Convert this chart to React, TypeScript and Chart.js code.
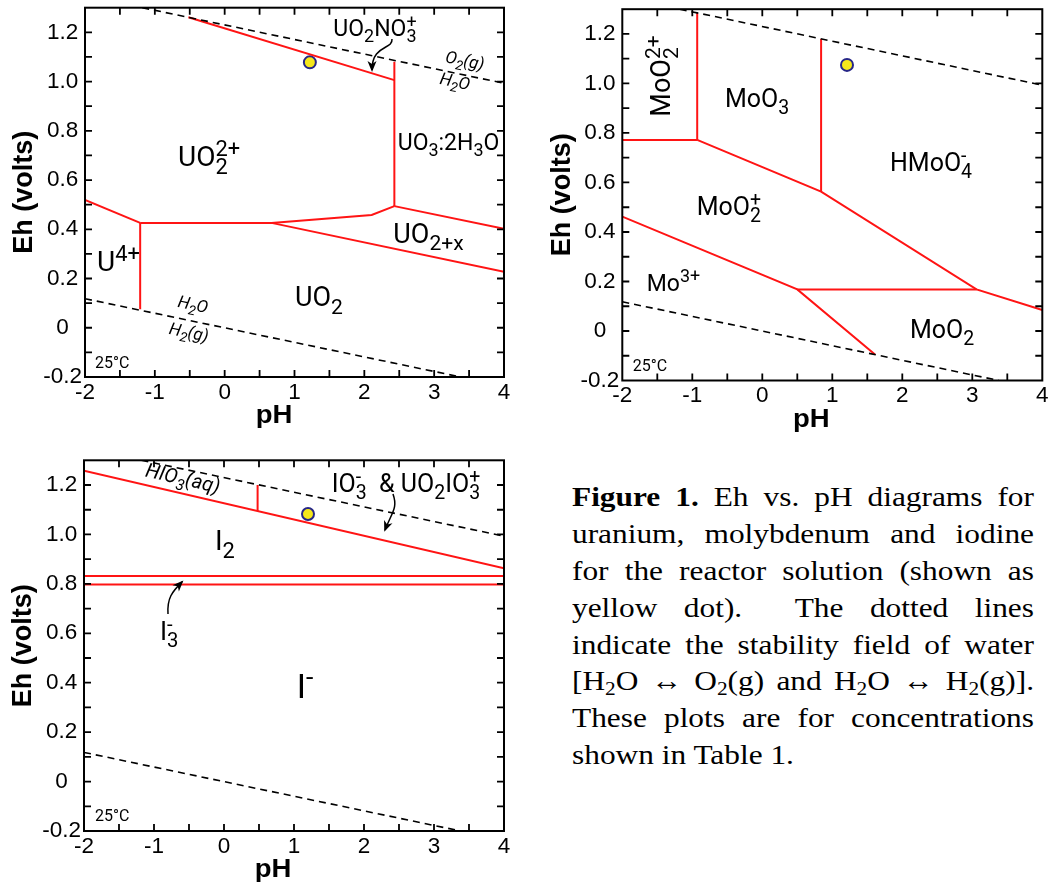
import React, { useEffect, useRef } from 'react';
import { Chart, registerables } from 'chart.js';
Chart.register(...registerables);

// ---------- axes ----------
const X_TICKS = [-2, -1, 0, 1, 2, 3, 4];
const X_TICK_LABELS = ['-2', '-1', '0', '1', '2', '3', '4'];
const Y_TICKS = [-0.2, 0, 0.2, 0.4, 0.6, 0.8, 1.0, 1.2];
const Y_TICK_LABELS = ['-0.2', '0', '0.2', '0.4', '0.6', '0.8', '1.0', '1.2'];
const X_MINOR = [-1.5, -1, -0.5, 0, 0.5, 1, 1.5, 2, 2.5, 3, 3.5];
const Y_MINOR = [-0.1, 0, 0.1, 0.2, 0.3, 0.4, 0.5, 0.6, 0.7, 0.8, 0.9, 1.0, 1.1, 1.2];

// ---------- water stability lines (pH, Eh) ----------
const WATER_O2 = [[-1.18, 1.3], [4, 0.993]];
const WATER_H2 = [[-2, 0.118], [3.38, -0.2]];

// ---------- uranium boundaries ----------
const U_UO2_TOP = [[-0.52, 1.261], [2.43, 1.006]];
const U_UO3_LEFT = [[2.43, 1.08], [2.43, 0.494]];
const U_U4_TOP = [[-2, 0.519], [-1.21, 0.426]];
const U_U4_RIGHT = [[-1.21, 0.426], [-1.21, 0.075]];
const U_UO2_UPPER = [[-1.21, 0.426], [0.67, 0.426], [2.105, 0.458], [2.43, 0.494]];
const U_UO2X_TOP = [[2.43, 0.494], [4, 0.402]];
const U_UO2X_BOTTOM = [[0.67, 0.426], [4, 0.227]];

// ---------- molybdenum boundaries ----------
const MO_V1 = [[-0.93, 1.285], [-0.93, 0.772]];
const MO_H1 = [[-2, 0.772], [-0.93, 0.772]];
const MO_D1 = [[-0.93, 0.772], [0.84, 0.563], [3.06, 0.168], [4, 0.085]];
const MO_V2 = [[0.84, 1.18], [0.84, 0.563]];
const MO_H2 = [[0.5, 0.168], [3.06, 0.168]];
const MO_D2 = [[-2, 0.462], [0.5, 0.168], [1.61, -0.095]];

// ---------- iodine boundaries ----------
const I_IO3 = [[-2, 1.258], [4, 0.863]];
const I_HIO3 = [[0.48, 1.095], [0.48, 1.2]];
const I_I3_TOP = [[-2, 0.832], [4, 0.832]];
const I_I3_BOTTOM = [[-2, 0.797], [4, 0.797]];

// ---------- reactor solution (yellow dot) ----------
const SAMPLE_U = [[1.22, 1.078]];
const SAMPLE_MO = [[1.21, 1.075]];
const SAMPLE_I = [[1.2, 1.083]];

// ---------- annotations (data coordinates) ----------
const U_LABELS = [
  { x: -0.668, y: 0.657, text: 'UO_{2}^{2+}', size: 28 },
  { x: -1.828, y: 0.232, text: 'U^{4+}', size: 28 },
  { x: 1.007, y: 0.088, text: 'UO_{2}', size: 27 },
  { x: 2.415, y: 0.345, text: 'UO_{2+x}', size: 27 },
  { x: 2.478, y: 0.722, text: 'UO_{3}:2H_{3}O', size: 23 },
  { x: 1.556, y: 1.185, text: 'UO_{2}NO_{3}^{+}', size: 23 },
  { x: 3.442, y: 1.087, text: 'O_{2}(g)', size: 17, italic: true, rot: 12, center: true },
  { x: 3.3, y: 1.002, text: 'H_{2}O', size: 17, italic: true, rot: 12, center: true },
  { x: -0.453, y: 0.096, text: 'H_{2}O', size: 17, italic: true, rot: 12, center: true },
  { x: -0.511, y: -0.017, text: 'H_{2}(g)', size: 17, italic: true, rot: 12, center: true },
  { x: -1.857, y: -0.163, text: '25°C', size: 16 },
];
const MO_LABELS = [
  { x: -1.319, y: 0.866, text: 'MoO_{2}^{2+}', size: 27, rot: -90 },
  { x: -0.534, y: 0.906, text: 'MoO_{3}', size: 25 },
  { x: 1.824, y: 0.648, text: 'HMoO_{4}^{-}', size: 25 },
  { x: -0.937, y: 0.469, text: 'MoO_{2}^{+}', size: 25 },
  { x: -1.651, y: 0.163, text: 'Mo^{3+}', size: 23 },
  { x: 2.11, y: -0.03, text: 'MoO_{2}', size: 25 },
  { x: -1.851, y: -0.16, text: '25°C', size: 16 },
];
const I_LABELS = [
  { x: -0.586, y: 1.229, text: 'HIO_{3}(aq)', size: 20, italic: true, rot: 13, center: true },
  { x: 1.538, y: 1.173, text: 'IO_{3}^{-}  & UO_{2}IO_{3}^{+}', size: 25 },
  { x: -0.129, y: 0.937, text: 'I_{2}', size: 28 },
  { x: -0.914, y: 0.573, text: 'I_{3}^{-}', size: 26 },
  { x: 1.039, y: 0.337, text: 'I^{-}', size: 34 },
  { x: -1.843, y: -0.159, text: '25°C', size: 16 },
];
const U_ARROWS = [[[2.396, 1.173], [2.411, 1.128], [2.11, 1.152], [2.11, 1.047]]];
const MO_ARROWS: number[][][] = [];
const I_ARROWS = [
  [[2.414, 1.164], [2.486, 1.107], [2.4, 1.091], [2.3, 1.018]],
  [[-0.8, 0.678], [-0.814, 0.743], [-0.743, 0.767], [-0.6, 0.808]],
];

const RED = '#ff1414';
const AXIS_FONT = "'Liberation Sans', Arial, Helvetica, sans-serif";
const LABEL_FONT = "Roboto, 'Liberation Sans', Arial, sans-serif";
const AXIS_W = 90;
const PAD_T = 25;
const PAD_R = 15;
const AXIS_H = 55;

const PANELS = [
  {
    plot: { L: 85, T: 7.7, R: 504, B: 377 },
    lines: [U_UO2_TOP, U_UO3_LEFT, U_U4_TOP, U_U4_RIGHT, U_UO2_UPPER, U_UO2X_TOP, U_UO2X_BOTTOM],
    sample: SAMPLE_U, labels: U_LABELS, arrows: U_ARROWS,
  },
  {
    plot: { L: 622.3, T: 9.2, R: 1042.3, B: 380.5 },
    lines: [MO_V1, MO_H1, MO_D1, MO_V2, MO_H2, MO_D2],
    sample: SAMPLE_MO, labels: MO_LABELS, arrows: MO_ARROWS,
  },
  {
    plot: { L: 84, T: 460.3, R: 504, B: 831 },
    lines: [I_IO3, I_HIO3, I_I3_TOP, I_I3_BOTTOM],
    sample: SAMPLE_I, labels: I_LABELS, arrows: I_ARROWS,
  },
];

type Seg = { n?: string; sub?: string; sup?: string };

function parseRich(s: string): Seg[] {
  const out: Seg[] = [];
  let i = 0;
  while (i < s.length) {
    if ((s[i] === '_' || s[i] === '^') && s[i + 1] === '{') {
      const end = s.indexOf('}', i);
      const txt = s.slice(i + 2, end);
      const kind = s[i] === '_' ? 'sub' : 'sup';
      const prev = out[out.length - 1];
      if (prev && prev.n === undefined && (prev as any)[kind] === undefined) {
        (prev as any)[kind] = txt;
      } else {
        const seg: Seg = {};
        (seg as any)[kind] = txt;
        out.push(seg);
      }
      i = end + 1;
    } else {
      let j = i;
      while (j < s.length && !((s[j] === '_' || s[j] === '^') && s[j + 1] === '{')) j++;
      out.push({ n: s.slice(i, j) });
      i = j;
    }
  }
  return out;
}

function drawRich(ctx: CanvasRenderingContext2D, text: string, x: number, y: number, size: number, italic: boolean, center: boolean) {
  const segs = parseRich(text);
  const f = (s: number) => `${italic ? 'italic ' : ''}${s}px ${LABEL_FONT}`;
  const ss = size * 0.78;
  const widths = segs.map((seg) => {
    if (seg.n !== undefined) {
      ctx.font = f(size);
      return ctx.measureText(seg.n).width;
    }
    ctx.font = f(ss);
    return Math.max(seg.sub ? ctx.measureText(seg.sub).width : 0, seg.sup ? ctx.measureText(seg.sup).width : 0);
  });
  const total = widths.reduce((a, b) => a + b, 0);
  let cx = center ? x - total / 2 : x;
  ctx.textAlign = 'left';
  ctx.textBaseline = 'alphabetic';
  segs.forEach((seg, k) => {
    if (seg.n !== undefined) {
      ctx.font = f(size);
      ctx.fillText(seg.n, cx, y);
    } else {
      ctx.font = f(ss);
      if (seg.sub) ctx.fillText(seg.sub, cx, y + size * 0.28);
      if (seg.sup) ctx.fillText(seg.sup, cx, y - size * 0.36);
    }
    cx += widths[k];
  });
}

function makePlugin(spec: any) {
  return {
    id: 'ehph',
    afterDatasetsDraw(chart: any) {
      const ctx: CanvasRenderingContext2D = chart.ctx;
      const xs = chart.scales.x;
      const ys = chart.scales.y;
      ctx.save();
      ctx.fillStyle = '#000';
      spec.labels.forEach((lb: any) => {
        const px = xs.getPixelForValue(lb.x);
        const py = ys.getPixelForValue(lb.y);
        ctx.save();
        ctx.translate(px, py);
        if (lb.rot) ctx.rotate((lb.rot * Math.PI) / 180);
        drawRich(ctx, lb.text, 0, lb.center ? lb.size * 0.35 : 0, lb.size, !!lb.italic, !!lb.center);
        ctx.restore();
      });
      ctx.strokeStyle = '#000';
      ctx.lineWidth = 1.5;
      spec.arrows.forEach((a: number[][]) => {
        const p = a.map(([x, y]) => [xs.getPixelForValue(x), ys.getPixelForValue(y)]);
        ctx.beginPath();
        ctx.moveTo(p[0][0], p[0][1]);
        ctx.bezierCurveTo(p[1][0], p[1][1], p[2][0], p[2][1], p[3][0], p[3][1]);
        ctx.stroke();
        const dx = p[3][0] - p[2][0];
        const dy = p[3][1] - p[2][1];
        const len = Math.hypot(dx, dy) || 1;
        const ux = dx / len, uy = dy / len;
        const tipX = p[3][0] + ux * 2, tipY = p[3][1] + uy * 2;
        const bx = tipX - ux * 11, by = tipY - uy * 11;
        ctx.beginPath();
        ctx.moveTo(tipX, tipY);
        ctx.lineTo(bx - uy * 4.5, by + ux * 4.5);
        ctx.lineTo(bx + ux * 3, by + uy * 3);
        ctx.lineTo(bx + uy * 4.5, by - ux * 4.5);
        ctx.closePath();
        ctx.fill();
      });
      ctx.restore();
    },
    afterDraw(chart: any) {
      const ctx: CanvasRenderingContext2D = chart.ctx;
      const { left, right, top, bottom } = chart.chartArea;
      const xs = chart.scales.x;
      const ys = chart.scales.y;
      ctx.save();
      ctx.strokeStyle = '#000';
      ctx.lineWidth = 2;
      ctx.strokeRect(left, top, right - left, bottom - top);
      ctx.lineWidth = 1.8;
      ctx.beginPath();
      X_MINOR.forEach((v) => {
        const px = xs.getPixelForValue(v);
        ctx.moveTo(px, bottom); ctx.lineTo(px, bottom - 7);
        ctx.moveTo(px, top); ctx.lineTo(px, top + 7);
      });
      Y_MINOR.forEach((v) => {
        const py = ys.getPixelForValue(v);
        ctx.moveTo(left, py); ctx.lineTo(left + 7, py);
        ctx.moveTo(right, py); ctx.lineTo(right - 7, py);
      });
      ctx.stroke();
      ctx.fillStyle = '#000';
      ctx.textAlign = 'center';
      ctx.textBaseline = 'alphabetic';
      ctx.save();
      ctx.translate(left + 189, bottom + 46);
      ctx.scale(1.1, 1);
      ctx.font = `bold 25px ${AXIS_FONT}`;
      ctx.fillText('pH', 0, 0);
      ctx.restore();
      ctx.save();
      ctx.font = `bold 27px ${AXIS_FONT}`;
      ctx.translate(left - 60, (top + bottom) / 2);
      ctx.rotate(-Math.PI / 2);
      ctx.textBaseline = 'middle';
      ctx.fillText('Eh (volts)', 0, 0);
      ctx.restore();
      ctx.restore();
    },
  };
}

const toXY = (pts: number[][]) => pts.map(([x, y]) => ({ x, y }));

function Panel({ spec }: { spec: any }) {
  const ref = useRef<HTMLCanvasElement>(null);
  const { L, T, R, B } = spec.plot;
  const cx = Math.floor(L) - AXIS_W;
  const cy = Math.floor(T) - PAD_T;
  const w = Math.ceil(R) + PAD_R - cx;
  const h = Math.ceil(B) + AXIS_H - cy;
  useEffect(() => {
    if (!ref.current) return;
    const datasets: any[] = [];
    [WATER_O2, WATER_H2].forEach((pts) =>
      datasets.push({
        data: toXY(pts), showLine: true, borderColor: '#000', borderWidth: 1.6,
        borderDash: [7, 5], pointRadius: 0, fill: false, tension: 0,
      })
    );
    spec.lines.forEach((pts: number[][]) =>
      datasets.push({
        data: toXY(pts), showLine: true, borderColor: RED, borderWidth: 2,
        pointRadius: 0, fill: false, tension: 0,
      })
    );
    datasets.push({
      data: toXY(spec.sample), showLine: false, pointRadius: 6,
      pointBackgroundColor: '#f5e71b', pointBorderColor: '#262687', pointBorderWidth: 2,
    });
    const chart = new Chart(ref.current, {
      type: 'scatter',
      data: { datasets },
      options: {
        animation: false,
        responsive: false,
        maintainAspectRatio: false,
        devicePixelRatio: 1,
        events: [],
        layout: {
          padding: {
            left: L - Math.floor(L),
            top: T - cy,
            right: cx + w - R,
            bottom: cy + h - AXIS_H - B,
          },
        },
        plugins: { legend: { display: false }, tooltip: { enabled: false } },
        scales: {
          x: {
            type: 'linear', min: -2, max: 4,
            grid: { display: false, drawTicks: false },
            border: { display: false },
            afterBuildTicks: (axis: any) => { axis.ticks = X_TICKS.map((v) => ({ value: v })); },
            afterFit: (axis: any) => { axis.height = AXIS_H; },
            ticks: {
              autoSkip: false, maxRotation: 0, minRotation: 0, padding: 2, color: '#000',
              font: { family: AXIS_FONT, size: 22.5 },
              callback: (_v: any, i: number) => X_TICK_LABELS[i],
            },
          },
          y: {
            type: 'linear', min: -0.2, max: 1.3,
            grid: { display: false, drawTicks: false },
            border: { display: false },
            afterBuildTicks: (axis: any) => { axis.ticks = Y_TICKS.map((v) => ({ value: v })); },
            afterFit: (axis: any) => { axis.width = AXIS_W; },
            ticks: {
              autoSkip: false, padding: 3, color: '#000', crossAlign: 'center',
              font: { family: AXIS_FONT, size: 22.5 },
              callback: (_v: any, i: number) => Y_TICK_LABELS[i],
            },
          },
        },
      } as any,
      plugins: [makePlugin(spec)],
    });
    return () => chart.destroy();
  }, []);
  return (
    <canvas
      ref={ref}
      width={w}
      height={h}
      style={{ position: 'absolute', left: cx, top: cy, width: w, height: h }}
    />
  );
}

const subStyle: React.CSSProperties = { fontSize: '0.68em', verticalAlign: 'baseline', position: 'relative', top: '0.22em', lineHeight: 0 };

const CAPTION_LINES: React.ReactNode[] = [
  <><b>Figure 1.</b> Eh vs. pH diagrams for</>,
  <>uranium, molybdenum and iodine</>,
  <>for the reactor solution (shown as</>,
  <>yellow dot).&nbsp; The dotted lines</>,
  <>indicate the stability field of water</>,
  <>[H<span style={subStyle}>2</span>O ↔ O<span style={subStyle}>2</span>(g) and H<span style={subStyle}>2</span>O ↔ H<span style={subStyle}>2</span>(g)].</>,
  <>These plots are for concentrations</>,
  <>shown in Table 1.</>,
];

function Caption() {
  const last = CAPTION_LINES.length - 1;
  return (
    <div
      style={{
        position: 'absolute', left: 572, top: 479, width: 412.5,
        transform: 'scaleX(1.12)', transformOrigin: 'left top',
        fontFamily: "'Liberation Serif', 'Times New Roman', serif", fontSize: 28, color: '#000',
      }}
    >
      {CAPTION_LINES.map((ln, i) => (
        <div
          key={i}
          style={{
            height: 36.9, lineHeight: '36.9px',
            textAlign: i === last ? 'left' : 'justify',
            textAlignLast: i === last ? 'left' : 'justify',
            whiteSpace: i === last ? 'nowrap' : 'normal',
          } as any}
        >
          {ln}
        </div>
      ))}
    </div>
  );
}

export default function App() {
  return (
    <div style={{ position: 'absolute', left: 0, top: 0, width: 1049, height: 884, overflow: 'hidden', background: '#fff' }}>
      {PANELS.map((p, i) => (
        <Panel key={i} spec={p} />
      ))}
      <Caption />
    </div>
  );
}
